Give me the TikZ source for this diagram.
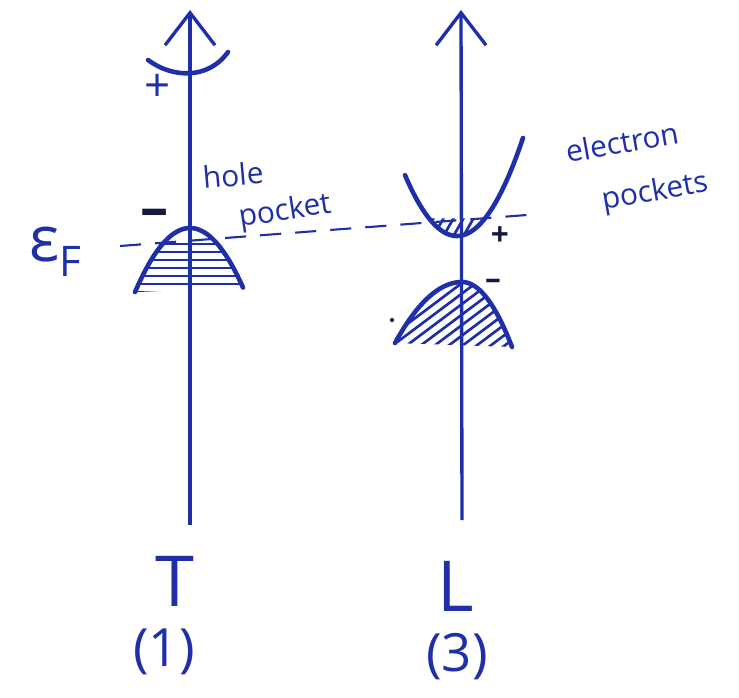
\documentclass[tikz,border=0pt]{standalone}
\usepackage{fontspec}
\setmainfont{Open Sans}
\usetikzlibrary{arrows.meta, positioning}
\definecolor{inkblue}{HTML}{1F2FA8}
\definecolor{inkdark}{HTML}{15183F}

\begin{document}
\begin{tikzpicture}[
    x=0.02cm, y=-0.02cm,
    axis/.style={inkblue, line width=1.9pt, -{Straight Barb[length=6.5mm, width=10mm, line width=1.9pt]}},
    band/.style={inkblue, line width=2.6pt, line cap=round},
    hatch/.style={inkblue, line width=1.5pt},
    fermi/.style={inkblue, line width=1.2pt, dash pattern=on 12pt off 8pt},
    note/.style={inkblue, font=\fontsize{17}{18}\selectfont, inner sep=0pt},
    sign/.style={font=\fontsize{18}{18}\selectfont\bfseries, inner sep=0pt, text height=1.1ex, text depth=0pt},
    point/.style={inkblue, font=\fontsize{40}{40}\selectfont, inner sep=0pt},
    index/.style={inkblue, font=\fontsize{30}{30}\selectfont, inner sep=0pt}
]
    \useasboundingbox (0,0) rectangle (739,697);

    % axes
    \coordinate (Tbot) at (190,525);
    \coordinate (Ttop) at (190,10);
    \coordinate (Lbot) at (462,520);
    \coordinate (Ltop) at (461,10);
    \draw[axis] (Tbot) -- (Ttop);
    \draw[axis] (Lbot) -- (Ltop);

    % Fermi level
    \coordinate (efL) at (120,246);
    \coordinate (efR) at (540,214);
    \draw[fermi] (efL) -- (efR);
    \node[inkblue, font=\fontsize{36}{36}\selectfont, inner sep=0pt] (ef) at (55,252) {ε\raisebox{-0.45ex}{\fontsize{24}{24}\selectfont F}};

    % bands at T
    \draw[band] (148,60) .. controls (172,78) and (208,80) .. (228,52);
    \draw[band] plot[domain=-55:53, samples=40] ({190+\x},{228+0.0212*\x*\x});
    \begin{scope}
        \clip plot[domain=-55:53, samples=40] ({190+\x},{228+0.0212*\x*\x}) -- cycle;
        \foreach \h in {244,252,...,296}
            \draw[hatch] (130,\h) -- (250,\h);
    \end{scope}

    % bands at L
    \draw[band] plot[domain=-52:66, samples=40] ({457+\x},{236-0.0225*\x*\x});
    \begin{scope}
        \clip plot[domain=-28:28, samples=20] ({457+\x},{236-0.0225*\x*\x}) -- cycle;
        \foreach \s in {420,430,...,490}
            \draw[hatch] (\s,242) -- (\s+16,214);
    \end{scope}
    \draw[band] plot[domain=-67:0, samples=30] ({462+\x},{282+0.0136*\x*\x})
        -- plot[domain=0:50, samples=30] ({462+\x},{282+0.026*\x*\x});
    \begin{scope}
        \clip plot[domain=-67:0, samples=30] ({462+\x},{282+0.0136*\x*\x})
            -- plot[domain=0:50, samples=30] ({462+\x},{282+0.026*\x*\x}) -- cycle;
        \foreach \s in {300,314,...,520}
            \draw[hatch] (\s,352) -- (\s+100,277);
    \end{scope}
    \fill[inkdark] (392,320) circle (1.2pt);

    % signs
    \node[inkblue, font=\fontsize{26}{26}\selectfont, inner sep=0pt] (Tplus) at (158,88) {+};
    \node[sign, inkdark, font=\fontsize{32}{32}\selectfont\bfseries] (Tminus) at (155,222) {–};
    \node[sign, inkdark] (Lplus) at (500,240) {+};
    \node[sign, inkdark] (Lminus) at (493,284) {–};

    % notes
    \node[note, rotate=5] (hole) at (233,175) {hole};
    \node[note, rotate=9] (holepocket) at (285,212) {pocket};
    \node[note, rotate=10] (electron) at (622,142) {electron};
    \node[note, rotate=10] (elecpocket) at (655,193) {pockets};

    % points
    \node[point] (Tname) at (175,581) {T};
    \node[index] (Tnum) at (164,652) {(1)};
    \node[point] (Lname) at (456,586) {L};
    \node[index] (Lnum) at (457,657) {(3)};
\end{tikzpicture}
\end{document}
